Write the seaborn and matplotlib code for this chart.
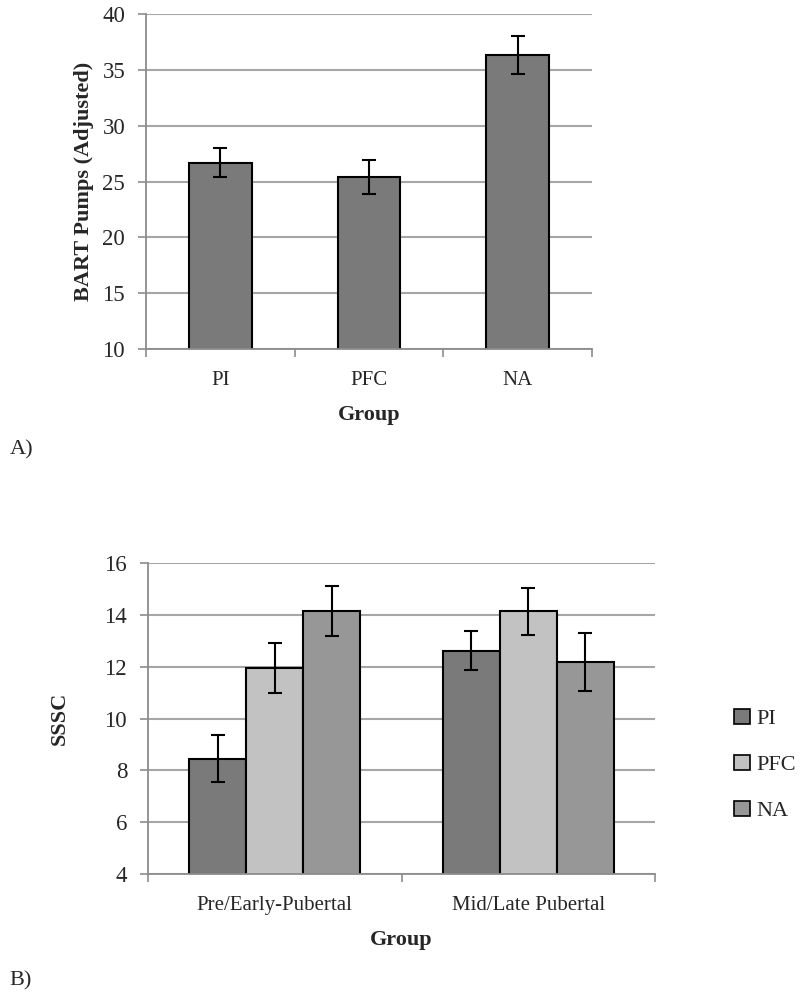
import numpy as np
import pandas as pd
import matplotlib
matplotlib.use("Agg")
import matplotlib.pyplot as plt
import seaborn as sns
from matplotlib.ticker import FixedLocator, NullFormatter

# ---- data ----
groups_a = ["PI", "PFC", "NA"]
bart_means = [26.7, 25.4, 36.3]
bart_errs = [1.3, 1.5, 1.7]

stages = ["Pre/Early-Pubertal", "Mid/Late Pubertal"]
hue_groups = ["PI", "PFC", "NA"]
sssc_means = {"PI": [8.45, 12.62], "PFC": [11.95, 14.14], "NA": [14.15, 12.18]}
sssc_errs = {"PI": [0.90, 0.76], "PFC": [0.98, 0.91], "NA": [0.97, 1.12]}

yticks_a = [10, 15, 20, 25, 30, 35, 40]
yticks_b = [4, 6, 8, 10, 12, 14, 16]

bar_color_a = "#7a7a7a"
hue_colors = {"PI": "#7a7a7a", "PFC": "#c2c2c2", "NA": "#979797"}
grid_color = "#a6a6a6"
axis_color = "#8c8c8c"

sns.set_theme(style="white")
plt.rcParams["font.family"] = ["Liberation Serif", "DejaVu Serif"]
FS = 15

fig = plt.figure(figsize=(8, 9.96), dpi=100)

def style_axes(ax, ncat, yticks):
    for s in ["top", "right"]:
        ax.spines[s].set_visible(False)
    for s in ["left", "bottom"]:
        ax.spines[s].set_color(axis_color)
        ax.spines[s].set_linewidth(1.3)
    ax.set_ylim(yticks[0], yticks[-1])
    ax.set_yticks(yticks)
    ax.set_xlim(-0.5, ncat - 0.5)
    ax.yaxis.grid(True, color=grid_color, linewidth=1.5)
    ax.set_axisbelow(True)
    ax.tick_params(axis="y", which="major", left=True, length=6, width=1.2,
                   color=axis_color, labelsize=FS + 1.5, pad=9)
    ax.tick_params(axis="x", which="major", bottom=False, labelsize=FS, pad=10)
    ax.xaxis.set_minor_locator(FixedLocator(np.arange(-0.5, ncat, 1.0)))
    ax.xaxis.set_minor_formatter(NullFormatter())
    ax.tick_params(axis="x", which="minor", bottom=True, length=6, width=1.2,
                   color=axis_color)

# ---- Panel A ----
ax1 = fig.add_axes([0.1825, 0.6496, 0.5575, 0.3363])
df_a = pd.DataFrame({"Group": groups_a, "Pumps": bart_means})
sns.barplot(data=df_a, x="Group", y="Pumps", color=bar_color_a, saturation=1,
            width=0.42, edgecolor="black", linewidth=1.5, errorbar=None, ax=ax1)
for p, e in zip(ax1.patches, bart_errs):
    ax1.errorbar(p.get_x() + p.get_width() / 2, p.get_height(), yerr=e,
                 fmt="none", ecolor="black", elinewidth=1.5, capsize=5, capthick=1.5)
style_axes(ax1, len(groups_a), yticks_a)
ax1.set_xlabel("Group", fontsize=FS + 1, fontweight="bold", labelpad=11)
ax1.set_ylabel("BART Pumps (Adjusted)", fontsize=FS + 1, fontweight="bold", labelpad=6)
fig.text(0.012, 0.548, "A)", fontsize=FS + 1, va="center", ha="left")

# ---- Panel B ----
ax2 = fig.add_axes([0.185, 0.1225, 0.634, 0.3122])
rows = []
for g in hue_groups:
    for s, m in zip(stages, sssc_means[g]):
        rows.append({"Stage": s, "Group": g, "SSSC": m})
df_b = pd.DataFrame(rows)
sns.barplot(data=df_b, x="Stage", y="SSSC", hue="Group", hue_order=hue_groups,
            order=stages, palette=hue_colors, saturation=1, width=0.675,
            edgecolor="black", linewidth=1.5, errorbar=None, ax=ax2)
for cont, g in zip(ax2.containers, hue_groups):
    for p, e in zip(cont.patches, sssc_errs[g]):
        ax2.errorbar(p.get_x() + p.get_width() / 2, p.get_height(), yerr=e,
                     fmt="none", ecolor="black", elinewidth=1.5, capsize=5, capthick=1.5)
style_axes(ax2, len(stages), yticks_b)
ax2.set_xlabel("Group", fontsize=FS + 1, fontweight="bold", labelpad=11)
ax2.set_ylabel("SSSC", fontsize=FS + 1, fontweight="bold", labelpad=25)
leg = ax2.legend(loc="center left", bbox_to_anchor=(0.8925, 0.232), bbox_transform=fig.transFigure,
                 frameon=False, fontsize=FS + 1, handlelength=0.7, handleheight=0.7,
                 handletextpad=0.3, labelspacing=1.15)
for h in leg.legend_handles:
    h.set_edgecolor("black")
    h.set_linewidth(1.2)
fig.text(0.012, 0.015, "B)", fontsize=FS + 1, va="center", ha="left")

fig.savefig("out.png", dpi=100)
